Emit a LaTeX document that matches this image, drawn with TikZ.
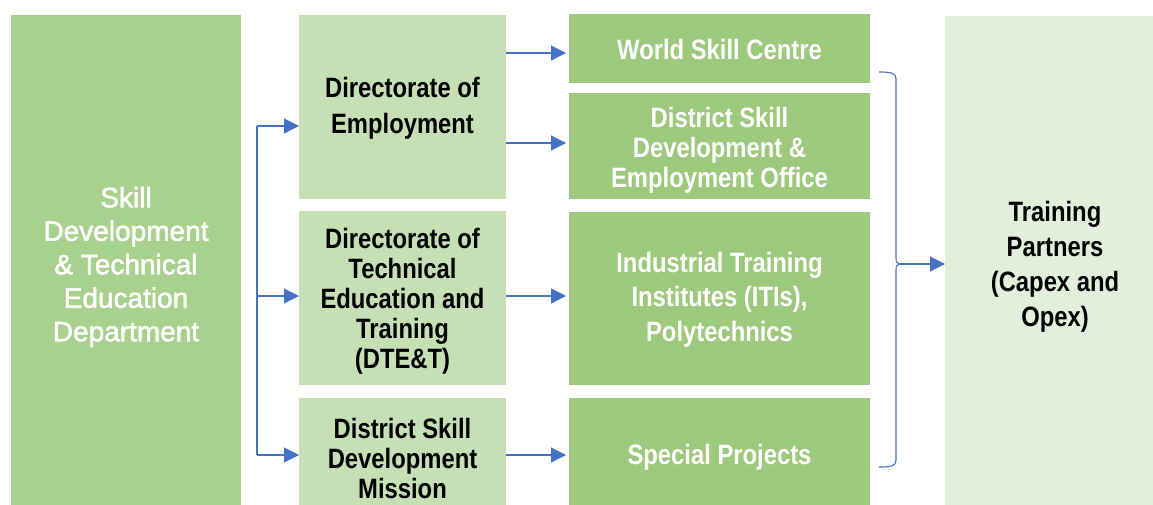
\documentclass[tikz,border=0pt]{standalone}
\usepackage{fontspec}
\setmainfont{Liberation Sans}
\newfontfamily\condfont[FakeStretch=0.85]{Liberation Sans}
\newfontfamily\leftfont[FakeBold=1.8]{Liberation Sans}
\usetikzlibrary{arrows.meta}
\definecolor{gLeft}{HTML}{A9D18E}
\definecolor{gMid}{HTML}{C5E0B4}
\definecolor{gRight}{HTML}{9DC97C}
\definecolor{gTP}{HTML}{E2EFDA}
\definecolor{arrowblue}{HTML}{4472C4}
\tikzset{
  box/.style={rectangle, inner sep=0pt, outer sep=0pt, draw=none},
  leftbox/.style={box, fill=gLeft},
  midbox/.style={box, fill=gMid},
  rightbox/.style={box, fill=gRight},
  tpbox/.style={box, fill=gTP},
  txt/.style={inner sep=0pt, align=center},
  lefttext/.style={txt, text=white, font=\leftfont\fontsize{28}{33.5}\selectfont},
  midtext/.style={txt, text=black, font=\condfont\bfseries\fontsize{28}{30}\selectfont},
  righttext/.style={txt, text=white, font=\condfont\bfseries\fontsize{28}{30}\selectfont},
  tptext/.style={txt, text=black, font=\condfont\bfseries\fontsize{28}{35}\selectfont},
  conn/.style={draw=arrowblue, line width=1.1pt},
  arr/.style={conn, -{Triangle[length=15pt,width=15pt]}}
}
\begin{document}
\begin{tikzpicture}[x=1pt,y=-1pt]
\useasboundingbox (0,0) rectangle (1153,504);
\clip (0,0) rectangle (1153,504);
\fill[white] (0,0) rectangle (1153,504);
% boxes
\node[leftbox, minimum width=230pt, minimum height=499pt] (sd) at (126,264.5) {};
\node[midbox, minimum width=207pt, minimum height=184pt] (doe) at (402.5,107) {};
\node[midbox, minimum width=207pt, minimum height=174pt] (dte) at (402.5,298) {};
\node[midbox, minimum width=207pt, minimum height=118pt] (dsdm) at (402.5,457) {};
\node[rightbox, minimum width=301pt, minimum height=69pt] (wsc) at (719.5,48.5) {};
\node[rightbox, minimum width=301pt, minimum height=106pt] (dsdeo) at (719.5,146) {};
\node[rightbox, minimum width=301pt, minimum height=173pt] (iti) at (719.5,298.5) {};
\node[rightbox, minimum width=301pt, minimum height=114pt] (sp) at (719.5,455) {};
\node[tpbox, minimum width=220pt, minimum height=496pt] (tp) at (1055,264) {};
% texts
\node[lefttext] (sdt) at (126,267) {Skill\\Development\\\& Technical\\Education\\Department};
\node[midtext, font=\condfont\bfseries\fontsize{28}{36}\selectfont] (doet) at (402.5,108.5) {Directorate of\\Employment};
\node[midtext] (dtet) at (402.5,301.5) {Directorate of\\Technical\\Education and\\Training\\(DTE\&T)};
\node[midtext] (dsdmt) at (402.5,458) {District Skill\\Development\\Mission};
\node[righttext] (wsct) at (719.5,49) {World Skill Centre};
\node[righttext] (dsdeot) at (719.5,150.5) {District Skill\\Development \&\\Employment Office};
\node[righttext, font=\condfont\bfseries\fontsize{28}{34.5}\selectfont] (itit) at (719.5,299.5) {Industrial Training\\Institutes (ITIs),\\Polytechnics};
\node[righttext] (spt) at (719.5,457) {Special Projects};
\node[tptext] (tpt) at (1055,266.5) {Training\\Partners\\(Capex and\\Opex)};
% left bus
\coordinate (b1) at (257,126);
\coordinate (b2) at (257,296);
\coordinate (b3) at (257,455);
\draw[conn] (b1) -- (b3);
\draw[arr] (b1) -- (b1 -| doe.west);
\draw[arr] (b2) -- (b2 -| dte.west);
\draw[arr] (b3) -- (b3 -| dsdm.west);
% middle to right arrows
\coordinate (e1) at (566,53);
\coordinate (e2) at (566,143);
\coordinate (e3) at (566,296);
\coordinate (e4) at (566,455);
\draw[arr] (e1 -| doe.east) -- (e1);
\draw[arr] (e2 -| doe.east) -- (e2);
\draw[arr] (e3 -| dte.east) -- (e3);
\draw[arr] (e4 -| dsdm.east) -- (e4);
% brace
\coordinate (bt) at (879,72);
\coordinate (bm) at (900,264);
\coordinate (bb) at (879,467);
\draw[conn] (bt) .. controls (891,72) and (896,73) .. (896,79) -- (896,258)
  .. controls (896,262) and (897,264) .. (bm)
  .. controls (897,264) and (896,266) .. (896,270) -- (896,460)
  .. controls (896,466) and (891,467) .. (bb);
\draw[arr] (bm) -- (bm -| tp.west);
\end{tikzpicture}
\end{document}
